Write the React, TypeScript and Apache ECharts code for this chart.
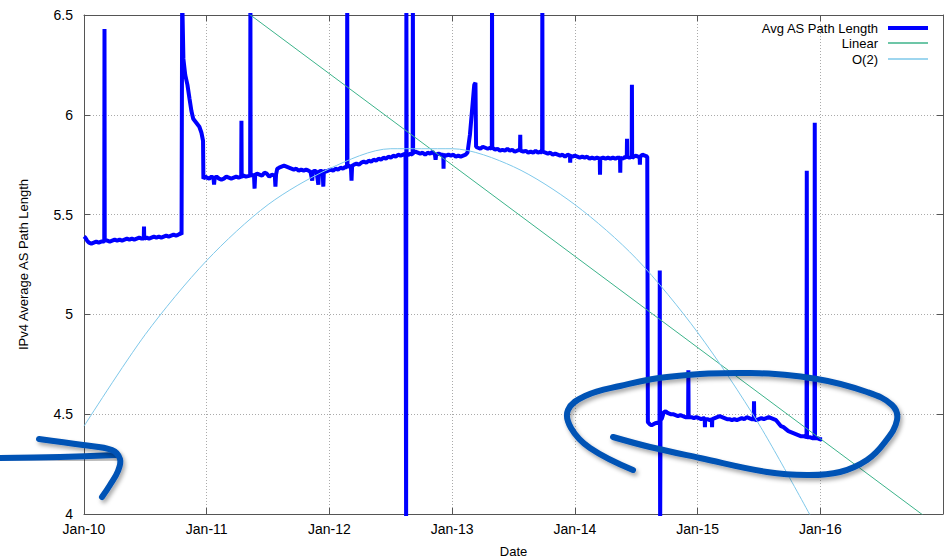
import React, { useEffect, useRef } from "react";
import * as echarts from "echarts";

// x values are years since Jan 2010
const yearTickLabels = ["Jan-10", "Jan-11", "Jan-12", "Jan-13", "Jan-14", "Jan-15", "Jan-16", "Jan-17"];

// [years since Jan 2010, average AS path length]
const avgPathLength: [number, number][] = [
  [0.0, 5.39], [0.01, 5.385], [0.025, 5.37], [0.04, 5.36], [0.06, 5.355], [0.08, 5.36], [0.1, 5.365], [0.12, 5.36],
  [0.14, 5.365], [0.165, 5.365], [0.167, 6.43], [0.169, 5.37], [0.19, 5.37], [0.21, 5.365], [0.23, 5.37], [0.25, 5.375],
  [0.27, 5.37], [0.29, 5.375], [0.31, 5.37], [0.33, 5.375], [0.35, 5.38], [0.37, 5.375], [0.39, 5.38], [0.41, 5.375],
  [0.43, 5.38], [0.45, 5.385], [0.47, 5.38], [0.487, 5.38], [0.489, 5.44], [0.491, 5.38], [0.51, 5.385], [0.53, 5.38],
  [0.55, 5.385], [0.57, 5.39], [0.59, 5.385], [0.61, 5.39], [0.63, 5.385], [0.65, 5.39], [0.67, 5.395], [0.69, 5.39],
  [0.71, 5.395], [0.73, 5.4], [0.75, 5.395], [0.77, 5.4], [0.785, 5.405], [0.795, 5.4], [0.8, 6.6], [0.81, 6.28],
  [0.825, 6.2], [0.843, 6.15], [0.86, 6.08], [0.875, 6.02], [0.89, 5.98], [0.915, 5.96], [0.94, 5.94], [0.957, 5.91],
  [0.97, 5.87], [0.973, 5.68], [0.99, 5.69], [1.0, 5.685], [1.02, 5.68], [1.04, 5.69], [1.055, 5.685], [1.06, 5.65],
  [1.065, 5.685], [1.08, 5.69], [1.1, 5.68], [1.12, 5.675], [1.14, 5.68], [1.16, 5.69], [1.18, 5.685], [1.2, 5.68],
  [1.22, 5.685], [1.24, 5.69], [1.26, 5.685], [1.281, 5.69], [1.283, 5.97], [1.285, 5.69], [1.3, 5.695], [1.32, 5.69],
  [1.354, 5.695], [1.356, 6.6], [1.358, 5.7], [1.37, 5.695], [1.385, 5.7], [1.39, 5.63], [1.395, 5.7], [1.41, 5.705],
  [1.43, 5.7], [1.45, 5.695], [1.47, 5.71], [1.49, 5.705], [1.51, 5.69], [1.53, 5.7], [1.555, 5.695], [1.56, 5.64],
  [1.565, 5.7], [1.575, 5.73], [1.59, 5.735], [1.61, 5.74], [1.63, 5.745], [1.65, 5.74], [1.67, 5.735], [1.69, 5.73],
  [1.71, 5.725], [1.73, 5.73], [1.75, 5.72], [1.77, 5.725], [1.79, 5.72], [1.81, 5.725], [1.83, 5.72], [1.845, 5.715],
  [1.86, 5.67], [1.865, 5.715], [1.88, 5.72], [1.895, 5.715], [1.91, 5.65], [1.915, 5.715], [1.93, 5.72], [1.945, 5.715],
  [1.95, 5.64], [1.955, 5.72], [1.97, 5.715], [1.99, 5.72], [2.01, 5.725], [2.03, 5.72], [2.05, 5.73], [2.07, 5.725],
  [2.09, 5.735], [2.11, 5.73], [2.13, 5.74], [2.143, 5.735], [2.145, 6.6], [2.147, 5.74], [2.16, 5.745], [2.175, 5.74],
  [2.18, 5.67], [2.185, 5.745], [2.2, 5.75], [2.22, 5.755], [2.24, 5.75], [2.26, 5.76], [2.28, 5.765], [2.3, 5.76],
  [2.32, 5.77], [2.34, 5.765], [2.36, 5.775], [2.38, 5.77], [2.4, 5.78], [2.42, 5.775], [2.44, 5.785], [2.46, 5.78],
  [2.48, 5.79], [2.5, 5.785], [2.52, 5.795], [2.54, 5.79], [2.56, 5.8], [2.58, 5.795], [2.6, 5.8], [2.62, 5.805],
  [2.625, 3.9], [2.627, 6.6], [2.629, 5.8], [2.645, 5.8], [2.66, 5.805], [2.678, 5.8], [2.68, 6.6], [2.682, 5.81],
  [2.7, 5.815], [2.72, 5.81], [2.74, 5.805], [2.76, 5.81], [2.78, 5.8], [2.8, 5.81], [2.82, 5.805], [2.84, 5.815],
  [2.86, 5.8], [2.865, 5.775], [2.87, 5.8], [2.89, 5.805], [2.91, 5.8], [2.928, 5.8], [2.93, 5.73], [2.932, 5.8],
  [2.95, 5.795], [2.97, 5.8], [2.99, 5.795], [3.01, 5.8], [3.03, 5.79], [3.05, 5.795], [3.07, 5.79], [3.09, 5.795],
  [3.11, 5.8], [3.125, 5.81], [3.145, 5.9], [3.18, 6.15], [3.19, 6.16], [3.195, 5.84], [3.21, 5.835], [3.23, 5.83],
  [3.25, 5.84], [3.27, 5.835], [3.29, 5.83], [3.31, 5.835], [3.323, 5.83], [3.325, 6.6], [3.327, 5.835], [3.35, 5.825],
  [3.37, 5.83], [3.39, 5.82], [3.41, 5.825], [3.43, 5.82], [3.45, 5.83], [3.47, 5.82], [3.49, 5.825], [3.51, 5.815],
  [3.53, 5.82], [3.553, 5.825], [3.555, 5.9], [3.557, 5.82], [3.58, 5.815], [3.6, 5.82], [3.62, 5.81], [3.64, 5.815],
  [3.66, 5.81], [3.68, 5.82], [3.7, 5.81], [3.72, 5.815], [3.733, 5.81], [3.735, 6.6], [3.737, 5.815], [3.76, 5.81],
  [3.78, 5.805], [3.8, 5.81], [3.82, 5.8], [3.84, 5.805], [3.86, 5.8], [3.88, 5.795], [3.9, 5.8], [3.92, 5.79],
  [3.94, 5.8], [3.96, 5.795], [3.962, 5.76], [3.964, 5.795], [3.98, 5.79], [4.0, 5.795], [4.02, 5.79], [4.04, 5.785],
  [4.06, 5.79], [4.08, 5.785], [4.1, 5.79], [4.12, 5.78], [4.14, 5.785], [4.16, 5.78], [4.18, 5.785], [4.203, 5.78],
  [4.205, 5.7], [4.207, 5.78], [4.23, 5.785], [4.25, 5.78], [4.27, 5.785], [4.29, 5.78], [4.31, 5.785], [4.33, 5.78],
  [4.35, 5.785], [4.368, 5.785], [4.37, 5.71], [4.372, 5.785], [4.39, 5.78], [4.41, 5.79], [4.423, 5.785], [4.425, 5.88],
  [4.427, 5.79], [4.445, 5.785], [4.463, 5.79], [4.465, 6.15], [4.467, 5.785], [4.48, 5.79], [4.5, 5.795], [4.515, 5.79],
  [4.528, 5.79], [4.53, 5.75], [4.532, 5.79], [4.55, 5.8], [4.57, 5.795], [4.59, 5.79], [4.595, 4.46], [4.61, 4.45],
  [4.625, 4.445], [4.64, 4.45], [4.655, 4.455], [4.69, 4.46], [4.692, 5.22], [4.695, 3.9], [4.698, 4.47], [4.71, 4.48],
  [4.725, 4.51], [4.74, 4.515], [4.76, 4.505], [4.78, 4.5], [4.8, 4.5], [4.82, 4.495], [4.84, 4.49], [4.86, 4.495],
  [4.88, 4.49], [4.9, 4.485], [4.923, 4.485], [4.925, 4.72], [4.927, 4.485], [4.95, 4.485], [4.97, 4.48], [4.99, 4.485],
  [5.01, 4.48], [5.03, 4.475], [5.05, 4.48], [5.058, 4.48], [5.06, 4.435], [5.062, 4.475], [5.08, 4.475], [5.1, 4.47],
  [5.116, 4.475], [5.118, 4.435], [5.12, 4.475], [5.14, 4.48], [5.16, 4.485], [5.18, 4.49], [5.2, 4.485], [5.22, 4.48],
  [5.24, 4.475], [5.26, 4.475], [5.28, 4.47], [5.3, 4.475], [5.32, 4.47], [5.34, 4.475], [5.36, 4.48], [5.38, 4.475],
  [5.4, 4.485], [5.42, 4.48], [5.44, 4.475], [5.458, 4.475], [5.46, 4.565], [5.462, 4.475], [5.48, 4.47], [5.5, 4.475],
  [5.52, 4.48], [5.54, 4.475], [5.56, 4.48], [5.58, 4.485], [5.6, 4.48], [5.62, 4.475], [5.64, 4.47], [5.66, 4.455],
  [5.68, 4.44], [5.7, 4.435], [5.72, 4.425], [5.74, 4.415], [5.76, 4.41], [5.78, 4.405], [5.8, 4.4], [5.82, 4.395],
  [5.84, 4.39], [5.86, 4.39], [5.888, 4.385], [5.89, 5.72], [5.892, 4.385], [5.915, 4.385], [5.935, 4.38], [5.953, 4.38],
  [5.955, 5.96], [5.957, 4.38], [5.975, 4.38], [5.995, 4.375], [6.015, 4.375],
];

const linearT = [0, 7];
const linearValues = [7.12, 3.92];

const quadT = [0, 0.5, 1, 1.5, 2, 2.5, 3, 3.5, 4, 4.5, 5, 5.5, 6];
const quadValues = [4.44, 4.9, 5.27, 5.55, 5.73, 5.83, 5.83, 5.74, 5.55, 5.28, 4.91, 4.45, 3.9];

const FONT = "'Liberation Sans', Arial, Helvetica, sans-serif";
const AXIS_COLOR = "#555";
const INK = "#0652b5";

export default function App() {
  const ref = useRef<HTMLDivElement>(null);
  useEffect(() => {
    document.body.style.margin = "0";
    if (!ref.current) return;
    const chart = echarts.init(ref.current, null, { renderer: "svg" });
    const axisLine = { show: true, onZero: false, lineStyle: { color: AXIS_COLOR, width: 1 } };
    const axisTick = { show: true, inside: true, length: 6, lineStyle: { color: AXIS_COLOR, width: 1 } };
    const split = { show: true, lineStyle: { color: "#aaa", width: 1, type: [1, 2] } };
    const shadow = { shadowBlur: 4, shadowColor: "rgba(0,0,0,0.35)", shadowOffsetX: 2, shadowOffsetY: 3 };
    const legendCommon = {
      orient: "vertical",
      align: "right",
      right: 21,
      padding: 0,
      itemWidth: 40,
      icon: "rect",
      selectedMode: false,
      textStyle: { fontSize: 13, color: "#000", fontFamily: FONT, padding: [0, 5, 0, 0] },
    };
    const option: any = {
      animation: false,
      backgroundColor: "#fff",
      textStyle: { fontFamily: FONT },
      grid: { left: 84, right: 6, top: 15, bottom: 43, containLabel: false, outerBoundsMode: "none" },
      xAxis: [
        {
          type: "value",
          min: 0,
          max: 7,
          interval: 1,
          position: "bottom",
          name: "Date",
          nameLocation: "middle",
          nameGap: 31,
          nameTextStyle: { fontSize: 13, color: "#000", fontFamily: FONT },
          axisLine,
          axisTick,
          axisLabel: {
            fontSize: 14,
            color: "#000",
            margin: 8,
            fontFamily: FONT,
            showMinLabel: true,
            showMaxLabel: false,
            formatter: (v: number) => yearTickLabels[Math.round(v)],
          },
          splitLine: split,
        },
        {
          type: "value",
          min: 0,
          max: 7,
          interval: 1,
          position: "top",
          axisLine,
          axisTick,
          axisLabel: { show: false },
          splitLine: { show: false },
        },
      ],
      yAxis: [
        {
          type: "value",
          min: 4,
          max: 6.5,
          interval: 0.5,
          position: "left",
          name: "IPv4 Average AS Path Length",
          nameLocation: "middle",
          nameGap: 54,
          nameTextStyle: { fontSize: 13, color: "#000", fontFamily: FONT },
          axisLine,
          axisTick,
          axisLabel: { fontSize: 14, color: "#000", margin: 11, fontFamily: FONT },
          splitLine: split,
        },
        {
          type: "value",
          min: 4,
          max: 6.5,
          interval: 0.5,
          position: "right",
          axisLine,
          axisTick,
          axisLabel: { show: false },
          splitLine: { show: false },
        },
      ],
      legend: [
        { ...legendCommon, top: 21.5, itemHeight: 4, data: ["Avg AS Path Length"] },
        { ...legendCommon, top: 36.5, itemHeight: 1.5, data: ["Linear"] },
        { ...legendCommon, top: 52.5, itemHeight: 1.5, data: ["O(2)"] },
      ],
      series: [
        {
          name: "Avg AS Path Length",
          type: "line",
          data: avgPathLength,
          showSymbol: false,
          symbol: "none",
          clip: true,
          z: 3,
          itemStyle: { color: "#0000ff" },
          lineStyle: { color: "#0000ff", width: 4, join: "bevel" },
        },
        {
          name: "Linear",
          type: "line",
          data: linearT.map((t, i) => [t, linearValues[i]]),
          showSymbol: false,
          symbol: "none",
          clip: true,
          z: 4,
          itemStyle: { color: "#3cb38a" },
          lineStyle: { color: "#3cb38a", width: 1 },
        },
        {
          name: "O(2)",
          type: "line",
          data: quadT.map((t, i) => [t, quadValues[i]]),
          smooth: 0.3,
          showSymbol: false,
          symbol: "none",
          clip: true,
          z: 4,
          itemStyle: { color: "#7ec8ea" },
          lineStyle: { color: "#7ec8ea", width: 1 },
        },
      ],
      graphic: [
        {
          type: "polyline",
          z: 100,
          shape: { points: [[0, 458], [60, 457], [116, 455]], smooth: 0.3 },
          style: { stroke: INK, lineWidth: 6, lineCap: "round", lineJoin: "round", fill: null, ...shadow },
        },
        {
          type: "polyline",
          z: 100,
          shape: {
            points: [[39, 439], [83, 445], [112, 450], [120, 459], [118, 471], [110, 485], [102, 497]],
            smooth: 0.4,
          },
          style: { stroke: INK, lineWidth: 6, lineCap: "round", lineJoin: "round", fill: null, ...shadow },
        },
        {
          type: "polyline",
          z: 100,
          shape: {
            points: [
              [613, 437], [650, 447], [700, 458], [767, 472], [807, 475], [840, 472], [867, 460], [885, 442],
              [897, 420], [892, 405], [867, 392], [817, 379], [750, 373], [667, 377], [620, 386], [585, 396],
              [568, 410], [571, 428], [590, 448], [633, 470],
            ],
            smooth: 0.4,
          },
          style: { stroke: INK, lineWidth: 6, lineCap: "round", lineJoin: "round", fill: null, ...shadow },
        },
      ],
    };
    chart.setOption(option);
    return () => chart.dispose();
  }, []);
  return <div ref={ref} style={{ width: 949, height: 557 }} />;
}
